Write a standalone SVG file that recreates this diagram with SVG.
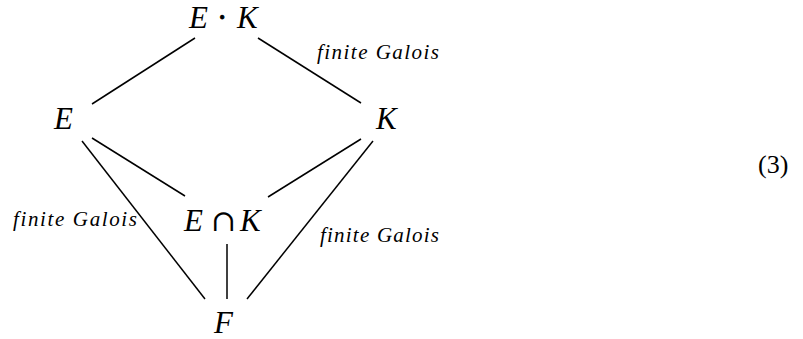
<svg xmlns="http://www.w3.org/2000/svg" width="803" height="339" viewBox="0 0 803 339">
<style>
.m{font-family:"Liberation Serif","DejaVu Serif",serif;font-size:31px;font-style:italic;fill:#000}
.u{font-style:normal}
.l{font-family:"Liberation Serif","DejaVu Serif",serif;font-size:21px;font-style:italic;fill:#000}
.e{stroke:#000;stroke-width:1.5;fill:none;stroke-linecap:butt}
</style>
<rect width="803" height="339" fill="#fff"/>
<g id="connectors">
<line class="e" x1="195" y1="38" x2="92" y2="104"/>
<line class="e" x1="258" y1="38" x2="361" y2="103"/>
<line class="e" x1="92" y1="138" x2="185" y2="196"/>
<line class="e" x1="82" y1="141" x2="205" y2="299"/>
<line class="e" x1="361" y1="139" x2="268" y2="197"/>
<line class="e" x1="373" y1="141" x2="247" y2="299"/>
<line class="e" x1="227" y1="244" x2="227" y2="299"/>
<text class="l" x="317" y="59" textLength="122" lengthAdjust="spacing">finite Galois</text>
<text class="l" x="13" y="226" textLength="124" lengthAdjust="spacing">finite Galois</text>
<text class="l" x="320" y="242" textLength="119" lengthAdjust="spacing">finite Galois</text>
</g>
<g id="EK"><text class="m" y="28"><tspan x="189">E</tspan><tspan class="u" x="217" stroke="#000" stroke-width="0.8">·</tspan><tspan x="237">K</tspan></text></g>
<g id="E"><text class="m" x="54" y="129">E</text></g>
<g id="K"><text class="m" x="376" y="129">K</text></g>
<g id="EcapK"><text class="m" y="231"><tspan x="184">E</tspan><tspan class="u" x="211" font-family="DejaVu Serif" font-size="30">∩</tspan><tspan x="240">K</tspan></text></g>
<g id="F"><text class="m" x="214" y="333">F</text></g>
<text x="758" y="173" font-family="Liberation Serif, serif" font-size="26" fill="#000">(3)</text>
</svg>
